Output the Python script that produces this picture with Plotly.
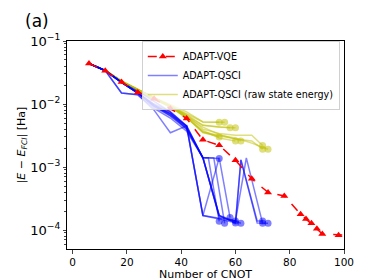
import plotly.graph_objects as go

# ADAPT-VQE
vqe_x = [6, 12, 18, 24, 30, 36, 42, 48, 54, 60, 66, 72, 78, 84, 86, 88, 90, 92, 98, 104]
vqe_y = [0.044, 0.0336, 0.0223, 0.0153, 0.0121, 0.0085, 0.0059, 0.0027, 0.00221, 0.00128,
         0.00065, 0.000396, 0.000348, 0.000179, 0.00015, 0.000128, 0.000105, 0.0000863,
         0.0000832, 0.0000825]

# ADAPT-QSCI runs (x, y)
qsci_runs = [
    ([6, 12, 18, 24, 30, 36, 42, 48, 54],
     [0.044, 0.034, 0.022, 0.016, 0.011, 0.0075, 0.0045, 0.0014, 0.00137]),
    ([6, 12, 18, 24, 30, 36, 42, 48, 50, 54],
     [0.044, 0.034, 0.015, 0.014, 0.0085, 0.006, 0.0037, 0.0014, 0.0014, 0.000138]),
    ([6, 12, 18, 24, 30, 36, 42, 48, 52, 56],
     [0.044, 0.034, 0.022, 0.015, 0.0095, 0.0065, 0.004, 0.0014, 0.0014, 0.000128]),
    ([6, 12, 18, 24, 30, 36, 42, 48, 54, 58],
     [0.044, 0.034, 0.015, 0.014, 0.008, 0.0035, 0.0045, 0.00017, 0.0014, 0.000158]),
    ([6, 12, 18, 24, 30, 36, 42, 48, 54, 60],
     [0.044, 0.034, 0.022, 0.015, 0.01, 0.0075, 0.0045, 0.00017, 0.000155, 0.00014]),
    ([6, 12, 18, 24, 30, 36, 42, 48, 54, 60],
     [0.044, 0.034, 0.022, 0.015, 0.0095, 0.007, 0.004, 0.0014, 0.00017, 0.00013]),
    ([6, 12, 18, 24, 30, 36, 42, 48, 54, 60, 62],
     [0.044, 0.034, 0.022, 0.015, 0.0092, 0.0068, 0.0045, 0.0014, 0.00017, 0.000135, 0.000128]),
    ([6, 12, 18, 24, 30, 36, 42, 48, 54, 60, 62, 68, 70],
     [0.044, 0.034, 0.022, 0.015, 0.009, 0.0065, 0.0042, 0.0014, 0.00017, 0.00013, 0.0013,
      0.00014, 0.00014]),
    ([6, 12, 18, 24, 30, 36, 42, 48, 54, 60, 64, 70],
     [0.044, 0.034, 0.022, 0.015, 0.0098, 0.007, 0.0043, 0.0014, 0.00016, 0.00014, 0.0014,
      0.000128]),
    ([6, 12, 18, 24, 30, 36, 42, 48, 54, 60, 62, 68, 72],
     [0.044, 0.034, 0.022, 0.015, 0.0093, 0.0072, 0.0044, 0.00017, 0.00015, 0.00013, 0.0013,
      0.00013, 0.000128]),
]

# ADAPT-QSCI raw state energy runs (x, y)
raw_runs = [
    ([6, 12, 18, 24, 30, 36, 42, 48, 54],
     [0.044, 0.034, 0.023, 0.017, 0.0125, 0.0098, 0.0075, 0.0052, 0.00515]),
    ([6, 12, 18, 24, 30, 36, 42, 48, 56],
     [0.044, 0.034, 0.023, 0.017, 0.0125, 0.0095, 0.007, 0.0052, 0.00515]),
    ([6, 12, 18, 24, 30, 36, 42, 48, 54, 58],
     [0.044, 0.034, 0.023, 0.017, 0.0123, 0.0093, 0.0068, 0.0046, 0.0043, 0.0042]),
    ([6, 12, 18, 24, 30, 36, 42, 48, 54, 60],
     [0.044, 0.034, 0.023, 0.017, 0.0122, 0.0092, 0.0065, 0.0046, 0.0043, 0.0042]),
    ([6, 12, 18, 24, 30, 36, 42, 48, 54],
     [0.044, 0.034, 0.023, 0.016, 0.012, 0.009, 0.006, 0.0036, 0.003]),
    ([6, 12, 18, 24, 30, 36, 42, 48, 54, 60],
     [0.044, 0.034, 0.023, 0.016, 0.012, 0.009, 0.006, 0.0038, 0.0029, 0.0026]),
    ([6, 12, 18, 24, 30, 36, 42, 48, 54, 62],
     [0.044, 0.034, 0.023, 0.017, 0.0122, 0.0092, 0.0062, 0.0043, 0.0033, 0.0026]),
    ([6, 12, 18, 24, 30, 36, 42, 48, 54, 60, 66, 70],
     [0.044, 0.034, 0.023, 0.017, 0.0124, 0.0094, 0.0066, 0.004, 0.0034, 0.0032, 0.0032,
      0.0022]),
    ([6, 12, 18, 24, 30, 36, 42, 48, 54, 60, 66, 70],
     [0.044, 0.034, 0.023, 0.016, 0.012, 0.009, 0.0062, 0.0035, 0.0031, 0.0028, 0.0026,
      0.00192]),
    ([6, 12, 18, 24, 30, 36, 42, 48, 54, 60, 66, 72],
     [0.044, 0.034, 0.023, 0.016, 0.0121, 0.0091, 0.0063, 0.0036, 0.0032, 0.0029, 0.0024,
      0.00192]),
]

x_ticks = [0, 20, 40, 60, 80, 100]

BLUE = "rgba(0,0,255,0.5)"
YEL = "rgba(191,191,0,0.5)"
FONT = "DejaVu Sans"

fig = go.Figure()

for xs, ys in raw_runs:
    fig.add_trace(go.Scatter(x=xs, y=ys, mode="lines", line=dict(color=YEL, width=1.5),
                             showlegend=False, hoverinfo="skip"))
    fig.add_trace(go.Scatter(x=[xs[-1]], y=[ys[-1]], mode="markers",
                             marker=dict(color=YEL, size=7, line=dict(width=0)),
                             showlegend=False, hoverinfo="skip"))
for xs, ys in qsci_runs:
    fig.add_trace(go.Scatter(x=xs, y=ys, mode="lines", line=dict(color=BLUE, width=1.5),
                             showlegend=False, hoverinfo="skip"))
    fig.add_trace(go.Scatter(x=[xs[-1]], y=[ys[-1]], mode="markers",
                             marker=dict(color=BLUE, size=7, line=dict(width=0)),
                             showlegend=False, hoverinfo="skip"))

fig.add_trace(go.Scatter(x=vqe_x, y=vqe_y, mode="lines+markers", name="ADAPT-VQE",
                         line=dict(color="red", width=1.5, dash="dash"),
                         marker=dict(symbol="triangle-up", size=7, color="red"),
                         legendrank=1))
fig.add_trace(go.Scatter(x=[None], y=[None], mode="lines", name="ADAPT-QSCI",
                         line=dict(color=BLUE, width=1.5), legendrank=2))
fig.add_trace(go.Scatter(x=[None], y=[None], mode="lines",
                         name="ADAPT-QSCI (raw state energy)",
                         line=dict(color=YEL, width=1.5), legendrank=3))

fig.update_layout(
    width=374, height=280,
    margin=dict(l=46, r=38, t=33, b=31),
    paper_bgcolor="white", plot_bgcolor="white",
    font=dict(family=FONT, size=10, color="black"),
    legend=dict(x=0.27, y=1.0, xanchor="left", yanchor="top",
                bgcolor="rgba(255,255,255,0.8)", bordercolor="#d0d0d0", borderwidth=1,
                font=dict(size=9.6), itemwidth=30, tracegroupgap=0),
)
fig.add_annotation(text="(a)", x=-46 / 290.3, y=1 + 33 / 216, xref="paper", yref="paper",
                   xanchor="left", yanchor="top", showarrow=False, font=dict(size=17))

fig.update_xaxes(range=[-2.1, 100], tickvals=x_ticks, ticks="outside", ticklen=3.5,
                 showline=True, linecolor="black", linewidth=1, mirror=True,
                 showgrid=False, zeroline=False, tickfont=dict(size=10.5),
                 title=dict(text="Number of CNOT", standoff=0, font=dict(size=11)))
fig.update_yaxes(type="log", range=[-4.30, -1], dtick=1, exponentformat="power",
                 ticks="outside", ticklen=3.5, tickfont=dict(size=10.5),
                 minor=dict(ticks="outside", ticklen=2, dtick="D1", showgrid=False),
                 showline=True, linecolor="black", linewidth=1, mirror=True,
                 showgrid=False, zeroline=False,
                 title=dict(text="|<i>E</i> − <i>E<sub>FCI</sub></i>| [Ha]", standoff=2,
                            font=dict(size=11)))

fig.write_html("out.html")
